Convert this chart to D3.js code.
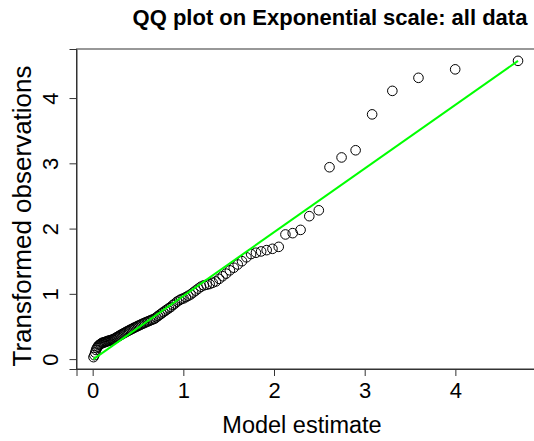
<!DOCTYPE html>
<html>
<head>
<meta charset="utf-8">
<script src="https://cdn.jsdelivr.net/npm/d3@7"></script>
<style>
  body { margin: 0; background: #fff; }
  svg { display: block; font-family: "Liberation Sans", Arial, sans-serif; }
</style>
</head>
<body>
<script>
// model quantiles (x) and sorted transformed observations (y)
const modelEstimate = [
  0.009, 0.019, 0.028, 0.037, 0.047, 0.057, 0.066, 0.076, 0.086, 0.096,
  0.106, 0.117, 0.127, 0.137, 0.148, 0.159, 0.170, 0.180, 0.192, 0.203,
  0.214, 0.225, 0.237, 0.249, 0.261, 0.273, 0.285, 0.297, 0.309, 0.322,
  0.335, 0.348, 0.361, 0.374, 0.387, 0.401, 0.415, 0.429, 0.443, 0.457,
  0.472, 0.487, 0.502, 0.517, 0.532, 0.548, 0.564, 0.580, 0.597, 0.614,
  0.631, 0.648, 0.666, 0.684, 0.702, 0.721, 0.740, 0.760, 0.779, 0.800,
  0.820, 0.841, 0.863, 0.885, 0.907, 0.930, 0.954, 0.978, 1.002, 1.028,
  1.054, 1.080, 1.108, 1.136, 1.165, 1.195, 1.226, 1.257, 1.290, 1.324,
  1.359, 1.396, 1.433, 1.472, 1.513, 1.556, 1.600, 1.647, 1.696, 1.747,
  1.801, 1.858, 1.919, 1.983, 2.052, 2.126, 2.206, 2.293, 2.389, 2.494,
  2.612, 2.745, 2.900, 3.082, 3.305, 3.593, 3.998, 4.691
];
const observed = [
  0.03, 0.06, 0.10, 0.14, 0.17, 0.19, 0.21, 0.22, 0.23, 0.24,
  0.25, 0.25, 0.26, 0.26, 0.27, 0.27, 0.28, 0.28, 0.29, 0.29,
  0.30, 0.30, 0.31, 0.32, 0.33, 0.34, 0.35, 0.36, 0.37, 0.38,
  0.39, 0.40, 0.41, 0.42, 0.43, 0.44, 0.45, 0.46, 0.47, 0.48,
  0.49, 0.50, 0.51, 0.52, 0.53, 0.54, 0.55, 0.56, 0.57, 0.58,
  0.59, 0.60, 0.61, 0.62, 0.64, 0.66, 0.68, 0.70, 0.72, 0.74,
  0.76, 0.78, 0.80, 0.83, 0.85, 0.88, 0.90, 0.92, 0.93, 0.95,
  0.97, 0.99, 1.02, 1.05, 1.08, 1.11, 1.13, 1.14, 1.15, 1.17,
  1.19, 1.23, 1.27, 1.31, 1.36, 1.40, 1.45, 1.50, 1.56, 1.61,
  1.63, 1.65, 1.67, 1.69, 1.72, 1.91, 1.93, 1.98, 2.19, 2.28,
  2.94, 3.09, 3.20, 3.75, 4.11, 4.31, 4.44, 4.57
];
// reference line end points
const lineX = [0.009, 4.691];
const lineY = [0.0, 4.57];
const xTicks = [0, 1, 2, 3, 4];
const yTicks = [0, 1, 2, 3, 4];

const width = 534, height = 441;
const plot = { left: 76.5, right: 535, top: 49, bottom: 369 };

const data = modelEstimate.map((x, i) => ({ x: x, y: observed[i] }));

const svg = d3.select("body").append("svg")
  .attr("width", width)
  .attr("height", height);

// R style: extend data range by 4% each side
function rDomain(vals) {
  const [lo, hi] = d3.extent(vals);
  const pad = (hi - lo) * 0.04;
  return [lo - pad, hi + pad];
}

const x_scale = d3.scaleLinear().domain(rDomain(modelEstimate)).range([plot.left, plot.right]);
const y_scale = d3.scaleLinear().domain(rDomain(observed)).range([plot.bottom, plot.top]);

// title
svg.append("text")
  .attr("x", 330)
  .attr("y", 25)
  .attr("text-anchor", "middle")
  .style("font-size", "22px")
  .style("font-weight", "bold")
  .text("QQ plot on Exponential scale: all data");

// points
svg.append("g")
  .selectAll("circle")
  .data(data)
  .join("circle")
  .attr("cx", d => x_scale(d.x))
  .attr("cy", d => y_scale(d.y))
  .attr("r", 4.8)
  .attr("fill", "none")
  .attr("stroke", "#000")
  .attr("stroke-width", 1);

// reference line
const line_generator = d3.line()
  .x(d => x_scale(d[0]))
  .y(d => y_scale(d[1]));

svg.append("path")
  .attr("d", line_generator(d3.zip(lineX, lineY)))
  .attr("fill", "none")
  .attr("stroke", "#00ff00")
  .attr("stroke-width", 2);

// box
svg.append("rect")
  .attr("x", plot.left)
  .attr("y", plot.top)
  .attr("width", plot.right - plot.left)
  .attr("height", plot.bottom - plot.top)
  .attr("fill", "none")
  .attr("stroke", "#333")
  .attr("stroke-width", 1);

// x axis
const x_axis = d3.axisBottom(x_scale)
  .tickValues(xTicks)
  .tickSize(7)
  .tickPadding(6)
  .tickFormat(d3.format("d"));

const gx = svg.append("g")
  .attr("transform", `translate(0,${plot.bottom})`)
  .call(x_axis);
gx.select(".domain").attr("stroke", "#333");
gx.selectAll(".tick line").attr("stroke", "#333");
gx.selectAll("text")
  .style("font-size", "22px")
  .attr("fill", "#000")
  .attr("font-family", null);

// y axis with rotated labels like R
const y_axis = d3.axisLeft(y_scale)
  .tickValues(yTicks)
  .tickSize(7)
  .tickFormat(d3.format("d"));

const gy = svg.append("g")
  .attr("transform", `translate(${plot.left},0)`)
  .call(y_axis);
gy.select(".domain").attr("stroke", "#333");
gy.selectAll(".tick line").attr("stroke", "#333");
gy.selectAll("text")
  .style("font-size", "22px")
  .attr("fill", "#000")
  .attr("font-family", null)
  .attr("x", null)
  .attr("dy", null)
  .attr("text-anchor", "middle")
  .attr("transform", "translate(-19,0) rotate(-90)");

// axis labels
svg.append("text")
  .attr("x", 302)
  .attr("y", 433)
  .attr("text-anchor", "middle")
  .style("font-size", "23.5px")
  .text("Model estimate");

svg.append("text")
  .attr("text-anchor", "middle")
  .attr("transform", "translate(31,216) rotate(-90)")
  .style("font-size", "26px")
  .text("Transformed observations");
</script>
</body>
</html>
